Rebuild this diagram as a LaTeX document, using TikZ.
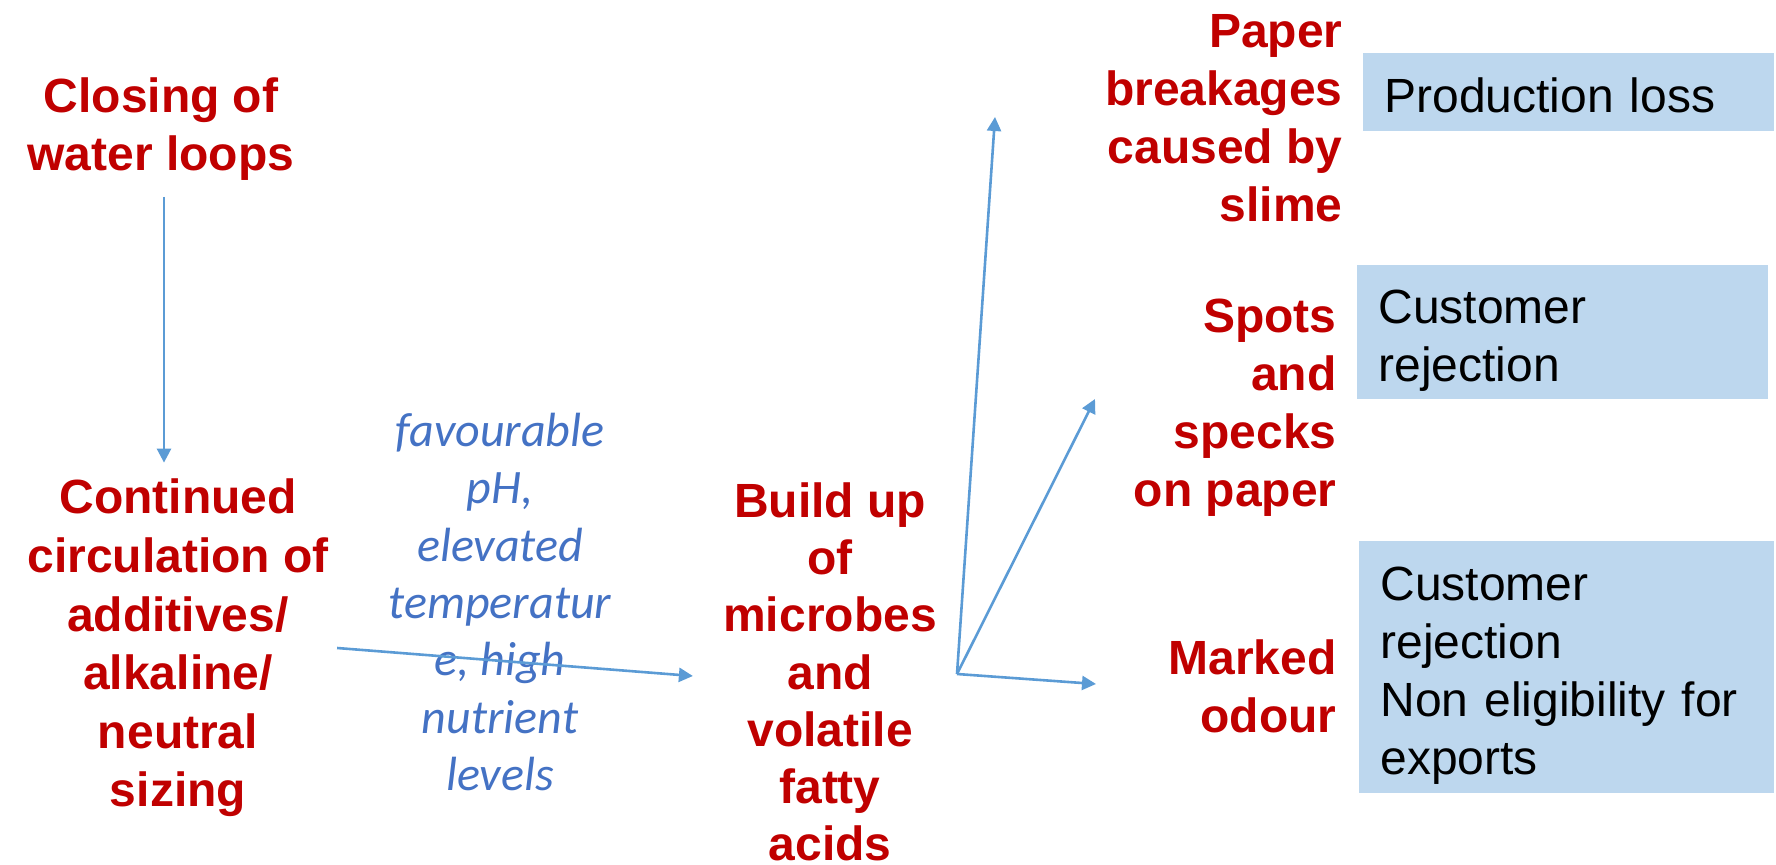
\documentclass[tikz,border=0pt]{standalone}
\usepackage{fontspec}
\setmainfont{Liberation Sans}
\newfontfamily\calibri{Carlito}
\usetikzlibrary{arrows.meta}
\definecolor{causered}{HTML}{C00000}
\definecolor{arrowblue}{HTML}{5B9BD5}
\definecolor{noteblue}{HTML}{4472C4}
\definecolor{boxblue}{HTML}{BDD7EE}
\begin{document}
\begin{tikzpicture}[x=0.5pt, y=-0.5pt,
  cause/.style={text=causered, font=\fontsize{24}{29}\selectfont\bfseries, align=center, inner sep=0pt},
  effect/.style={cause, align=right, anchor=east},
  note/.style={text=noteblue, font=\calibri\fontsize{24}{28.7}\selectfont\itshape, align=center, inner sep=0pt},
  impact/.style={fill=boxblue, font=\fontsize{24}{29}\selectfont, align=left, text width=184.5pt, inner xsep=10.5pt, inner ysep=0pt, anchor=north west},
  flow/.style={draw=arrowblue, line width=1.3pt, -{Triangle[width=7pt,length=7pt]}}]
\useasboundingbox (0,0) rectangle (1776,865);
\node [cause] (closing) at (161,129) {Closing of\\water loops};
\node [cause, font=\fontsize{24}{29.3}\selectfont\bfseries] (continued) at (178,648) {Continued\\circulation of\\additives/\\alkaline/\\neutral\\sizing};
\node [note] (conditions) at (500,602) {favourable\\pH,\\elevated\\temperatur\\e, high\\nutrient\\levels};
\node [cause, font=\fontsize{24}{28.6}\selectfont\bfseries] (buildup) at (830,672) {Build up\\of\\microbes\\and\\volatile\\fatty\\acids};
\node [effect] (paper) at (1343,118) {Paper\\breakages\\caused by\\slime};
\node [effect] (spots) at (1337,408) {Spots\\and\\specks\\on paper};
\node [effect] (marked) at (1337,686) {Marked\\odour};
\node [impact, minimum height=39pt] (loss) at (1363,53) {\rule{0pt}{20pt}Production loss};
\node [impact, minimum height=67pt] (rejection) at (1357,265) {\rule{0pt}{25pt}Customer\\rejection};
\node [impact, minimum height=126pt, text width=186.5pt] (exports) at (1359,541) {\rule{0pt}{25.5pt}Customer\\rejection\\Non eligibility for\\exports};
\coordinate (fan) at (957,674);
\coordinate (topaper) at (995,117);
\coordinate (tospots) at (1095,399);
\coordinate (tomarked) at (1096,684);
\draw [flow] ([xshift=1.5pt,yshift=-8pt]closing.south) -- ([xshift=1.5pt,yshift=8pt]closing.south |- continued.north);
\draw [flow] ([xshift=4pt]continued.east) -- ([xshift=-15pt,yshift=-2pt]buildup.west);
\draw [flow] (fan) -- (topaper);
\draw [flow] (fan) -- (tospots);
\draw [flow] (fan) -- (tomarked);
\end{tikzpicture}
\end{document}
